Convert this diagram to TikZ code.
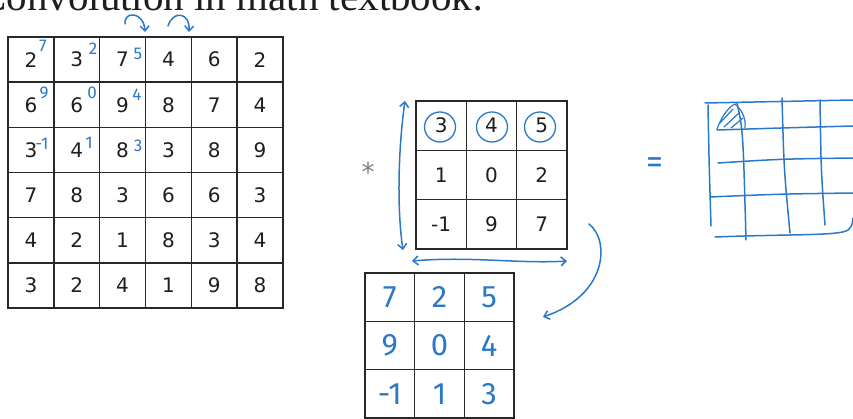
\documentclass[tikz,border=0pt]{standalone}
\usepackage{fontspec}
\setmainfont{Liberation Serif}
\newfontfamily\digitfont{DejaVu Sans}
\newfontfamily\handfont{Fira Sans}
\usetikzlibrary{arrows.meta,shapes.geometric}
\definecolor{pen}{RGB}{42,120,200}
\definecolor{gridc}{RGB}{40,40,40}
\definecolor{inkc}{RGB}{30,30,30}
\tikzset{
  cellA/.style={draw=gridc, line width=1.4pt, minimum width=45.83pt, minimum height=45.17pt, inner sep=0pt, text=inkc, font=\digitfont\fontsize{20}{20}\selectfont},
  cellK/.style={draw=gridc, line width=1.4pt, minimum width=50.33pt, minimum height=49.33pt, inner sep=0pt, text=inkc, font=\digitfont\fontsize{20}{20}\selectfont},
  cellF/.style={draw=gridc, line width=1.4pt, minimum width=49.67pt, minimum height=48.33pt, inner sep=0pt, text=pen, font=\handfont\fontsize{31}{31}\selectfont},
  supnum/.style={text=pen, inner sep=0pt, font=\handfont\fontsize{17}{17}\selectfont},
  pencil/.style={draw=pen, line width=1.5pt, line cap=round, line join=round},
  barb/.style={pencil, arrows={-Straight Barb[length=5pt,width=9pt]}},
  dbarb/.style={pencil, arrows={Straight Barb[length=5pt,width=9pt]-Straight Barb[length=5pt,width=9pt]}},
  ring/.style={draw=pen, line width=1.3pt, ellipse, minimum width=31pt, minimum height=30pt, inner sep=0pt}
}
\begin{document}
\begin{tikzpicture}[x=1pt,y=-1pt]
\useasboundingbox (0,0) rectangle (853,419);
\clip (0,0) rectangle (853,419);
\fill[white] (0,0) rectangle (853,419);

% title (cut at the top, as in the reference)
\node[anchor=base east, inner sep=0pt, text=inkc, font=\fontsize{41}{41}\selectfont] (title) at (484,11) {Convolution in math textbook:};

% left 6x6 grid
\foreach \row [count=\r] in {{2,3,7,4,6,2},{6,6,9,8,7,4},{3,4,8,3,8,9},{7,8,3,6,6,3},{4,2,1,8,3,4},{3,2,4,1,9,8}}{
  \foreach \v [count=\c] in \row {
    \node[cellA] (a-\r-\c) at ({8+45.833*(\c-0.5)},{37+45.167*(\r-0.5)}) {\v};
  }
}
% blue superscripts (flipped kernel written over the image)
\node[supnum] (s11) at (43,46) {7};
\node[supnum] (s12) at (93,49) {2};
\node[supnum] (s13) at (138,54) {5};
\node[supnum] (s21) at (44,93) {9};
\node[supnum] (s22) at (92,93) {0};
\node[supnum] (s23) at (137,95) {4};
\node[supnum] (s31) at (42,144) {-1};
\node[supnum] (s32) at (89,143) {1};
\node[supnum] (s33) at (138,146) {3};

% small hooked arrows above the grid
\coordinate (h1a) at (125,24);
\coordinate (h1b) at (145,32);
\coordinate (h2a) at (168,26);
\coordinate (h2b) at (189,32);
\draw[barb] (h1a) .. controls (124,10) and (144,12) .. (h1b);
\draw[barb] (h2a) .. controls (173,10) and (190,12) .. (h2b);

% asterisk
\node[text=gray, font=\digitfont\fontsize{26}{26}\selectfont, inner sep=0pt] (star) at (368,172) {*};

% kernel 3x3
\foreach \row [count=\r] in {{3,4,5},{1,0,2},{-1,9,7}}{
  \foreach \v [count=\c] in \row {
    \node[cellK] (k-\r-\c) at ({416+50.333*(\c-0.5)},{101+49.333*(\r-0.5)}) {\v};
  }
}
\node[ring] (r1) at (440,127) {};
\node[ring] (r2) at (492,127) {};
\node[ring] (r3) at (540,127) {};

% double arrows around kernel
\coordinate (vtop) at (405,101);
\coordinate (vbot) at (403,250);
\draw[dbarb] (vtop) .. controls (398,150) and (397,210) .. (vbot);
\coordinate (hl) at (412,261);
\coordinate (hr) at (567,261);
\draw[dbarb] (hl) .. controls (470,256) and (520,264) .. (hr);

% curved arrow to flipped kernel
\coordinate (ca) at (589,224);
\coordinate (cb) at (543,317);
\draw[barb] (ca) .. controls (610,240) and (608,295) .. (cb);

% flipped kernel
\foreach \row [count=\r] in {{7,2,5},{9,0,4},{-1,1,3}}{
  \foreach \v [count=\c] in \row {
    \node[cellF] (f-\r-\c) at ({365+49.667*(\c-0.5)},{273+48.333*(\r-0.5)}) {\v};
  }
}

% equals sign
\node[text=pen, font=\handfont\fontsize{34}{34}\selectfont, inner sep=0pt] (eq) at (655,166) {=};

% hand-drawn output grid
\draw[pencil] (705,103) -- (853,100);
\draw[pencil] (708,105) .. controls (709,160) .. (711,226);
\draw[pencil] (737,103) .. controls (743,130) .. (746,240);
\draw[pencil] (782,98) .. controls (784,170) .. (790,233);
\draw[pencil] (820,100) .. controls (821,170) .. (825,225);
\draw[pencil] (717,130) .. controls (780,128) .. (853,126);
\draw[pencil] (718,163) .. controls (780,159) .. (853,158);
\draw[pencil] (710,197) .. controls (780,194) .. (853,193);
\draw[pencil] (715,237) .. controls (790,234) and (840,236) .. (848,230) .. controls (852,226) .. (853,218);
% hatched first output entry
\draw[pencil, line width=1.2pt] (717,129) .. controls (722,115) and (730,106) .. (735,104) .. controls (742,110) and (746,118) .. (745,128);
\draw[pencil, line width=1.2pt] (720,123) -- (733,109);
\draw[pencil, line width=1.2pt] (724,127) -- (739,113);
\draw[pencil, line width=1.2pt] (731,128) -- (743,118);
\end{tikzpicture}
\end{document}
